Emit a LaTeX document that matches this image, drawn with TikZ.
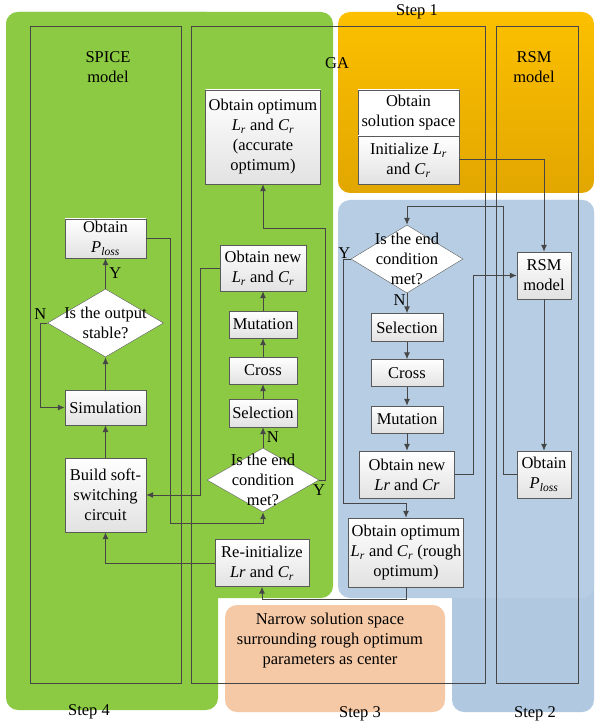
\documentclass[tikz,border=0pt]{standalone}
\usepackage{xcolor}
\usepackage{fontspec}
\setmainfont{Liberation Serif}
\usepackage{tikz}
\usetikzlibrary{shapes.geometric,arrows.meta,calc}
\newcommand{\Lsub}{\textit{L}\textsubscript{\textit{r}}}
\newcommand{\Csub}{\textit{C}\textsubscript{\textit{r}}}
\newcommand{\Ploss}{\textit{P}\textsubscript{\textit{loss}}}

\begin{document}
\begin{tikzpicture}[x=1pt,y=-1pt]
						\tikzstyle{every node}=[font=\fontsize{16.5}{20}\selectfont]
						\tikzstyle{box}=[draw={rgb,255:red,90; green,90; blue,90}, top color=white, bottom color={rgb,255:red,226; green,226; blue,226}, align=center, inner sep=1pt, minimum width=68, minimum height=27]
						\tikzstyle{ask}=[diamond, draw={rgb,255:red,90; green,90; blue,90}, fill=white, inner sep=0pt]
						\tikzstyle{arr}=[draw={rgb,255:red,70; green,70; blue,70}, line width=1pt, -{Latex[length=7pt,width=6pt]}]
						\tikzstyle{lane}=[draw={rgb,255:red,70; green,70; blue,70}, line width=0.9pt]
						\useasboundingbox (0,0) rectangle (594,727);
						% coloured steps
						\fill [rounded corners=12, fill={rgb,255:red,140; green,202; blue,68}] (6,12) rectangle (333,598);
						\fill [rounded corners=12, fill={rgb,255:red,140; green,202; blue,68}] (6,12) rectangle (218,710);
						\shade [rounded corners=12, top color={rgb,255:red,252; green,192; blue,0}, bottom color={rgb,255:red,226; green,167; blue,0}] (338,12) rectangle (594,193);
						\fill [rounded corners=12, fill={rgb,255:red,176; green,201; blue,224}] (452,200) rectangle (594,712);
						\fill [rounded corners=12, fill={rgb,255:red,182; green,205; blue,227}] (338,200) rectangle (594,598);
						\fill [rounded corners=12, fill={rgb,255:red,245; green,201; blue,166}] (225,605) rectangle (445,712);
						% lanes
						\draw [lane] (30,26) rectangle (181,683);
						\draw [lane] (191,26) rectangle (485,683);
						\draw [lane] (496,26) rectangle (578,683);
						\node [align=center] (spice) at (108,67) {SPICE\\model};
						\node (ga) at (337,63) {GA};
						\node [align=center] (rsmtitle) at (534,67) {RSM\\model};
						\node (step1) at (417,12) {Step 1};
						\node (step2) at (535,714) {Step 2};
						\node (step3) at (360,714) {Step 3};
						\node (step4) at (89,712) {Step 4};
						\node [align=center] (narrow) at (330,641) {Narrow solution space\\surrounding rough optimum\\parameters as center};
						% step 1
						\node [box, minimum width=101, minimum height=46, bottom color=white] (solspace) at (408.5,113) {Obtain\\solution space};
						\node [box, minimum width=101, minimum height=48] (init) at (408.5,160) {Initialize \Lsub\\and \Csub};
						% GA
						\node [box, minimum width=115, minimum height=94] (gaopt) at (263,137) {Obtain optimum\\\Lsub{} and \Csub\\(accurate\\optimum)};
						\node [box, minimum width=86, minimum height=46] (ganew) at (263,268) {Obtain new\\\Lsub{} and \Csub};
						\node [box] (gamut) at (263,324.5) {Mutation};
						\node [box] (gacross) at (263,370.5) {Cross};
						\node [box, minimum height=28] (gasel) at (263,413) {Selection};
						\node [ask, minimum width=112, minimum height=64, label={[align=center]center:Is the end\\condition\\met?}] (gaend) at (263,480) {};
						\node [box, minimum width=94, minimum height=47] (reinit) at (262,563) {Re-initialize\\\textit{Lr} and \Csub};
						% SPICE model
						\node [box, minimum width=81, minimum height=39] (ploss) at (105.5,238.5) {Obtain\\\Ploss};
						\node [ask, minimum width=116, minimum height=68, label={[align=center]center:Is the output\\stable?}] (stable) at (105.5,323) {};
						\node [box, minimum width=81, minimum height=35] (sim) at (105.5,407.5) {Simulation};
						\node [box, minimum width=81, minimum height=74] (build) at (105.5,495) {Build soft-\\switching\\circuit};
						% step 3
						\node [ask, minimum width=112, minimum height=68, label={[align=center]center:Is the end\\condition\\met?}] (rsend) at (407,259) {};
						\node [box, minimum width=72, minimum height=28] (rssel) at (407,327.5) {Selection};
						\node [box, minimum width=72] (rscross) at (407,373) {Cross};
						\node [box, minimum width=72] (rsmut) at (407,419.5) {Mutation};
						\node [box, minimum width=95, minimum height=47] (rsnew) at (407,474.5) {Obtain new\\\textit{Lr} and \textit{Cr}};
						\node [box, minimum width=115, minimum height=69] (rsopt) at (406,552.5) {Obtain optimum\\\Lsub{} and \Csub{} (rough\\optimum)};
						% RSM model
						\node [box, minimum width=54, minimum height=47] (rsm) at (544,275.5) {RSM\\model};
						\node [box, minimum width=54, minimum height=47] (rsmloss) at (544,474.5) {Obtain\\\Ploss};
						% connectors
						\draw [arr] (init.east) -| (rsm.north);
						\draw [arr] (rsm) -- (rsmloss);
						\draw [arr] (rsmloss.west) -- ++(-13,0) |- ($(rsend.north)+(0,-18)$) -- (rsend.north);
						\draw [arr] (rsend.south) node [below left, inner sep=1pt] {N} -- (rssel);
						\draw [arr] (rssel) -- (rscross);
						\draw [arr] (rscross) -- (rsmut);
						\draw [arr] (rsmut) -- (rsnew);
						\draw [arr] (rsnew.east) -- ++(19,0) |- (rsm.west);
						\draw [arr] (rsend.west) node [above left, inner sep=0pt] {Y} -- ++(-7,0) |- ($(rsopt.north)+(0,-14)$) -- (rsopt.north);
						\draw [arr] (rsopt.south) -- ++(0,12) -| (reinit.south);
						\draw [arr] (reinit.west) -| (build.south);
						\draw [arr] (build) -- (sim);
						\draw [arr] (sim) -- (stable);
						\draw [arr] (stable) -- node [right] {Y} (ploss);
						\draw [arr] (stable.west) -- ++(-7,0) node [above] {N} |- (sim.west);
						\draw [arr] (ploss.east) -- ++(24,0) |- ($(gaend.south)+(0,11)$) -- (gaend.south);
						\draw [arr] (gaend) -- node [right] {N} (gasel);
						\draw [arr] (gasel) -- (gacross);
						\draw [arr] (gacross) -- (gamut);
						\draw [arr] (gamut) -- (ganew);
						\draw [arr] (ganew.west) -- ++(-19,0) |- (build.east);
						\draw [arr] (gaend.east) node [below, inner sep=4pt] {Y} -- ++(6,0) |- ($(gaopt.south)+(0,44)$) -- (gaopt.south);
					\end{tikzpicture}
\end{document}
